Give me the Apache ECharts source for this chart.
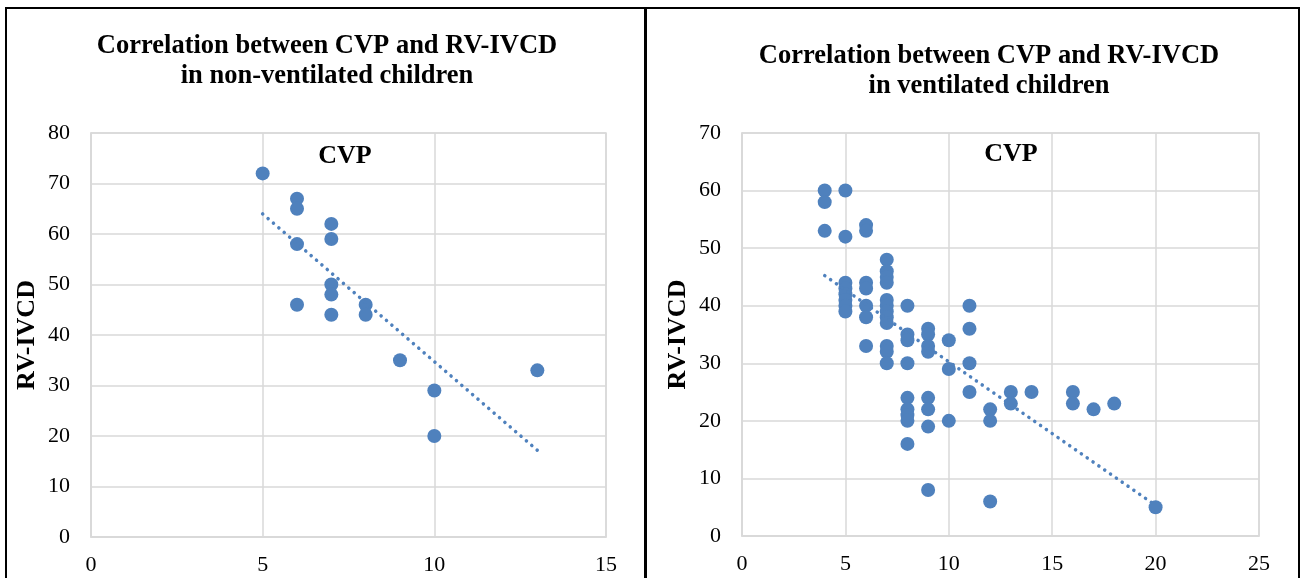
<!DOCTYPE html>
<html>
<head>
<meta charset="utf-8">
<title>CVP vs RV-IVCD</title>
<script src="https://cdn.jsdelivr.net/npm/echarts@6/dist/echarts.min.js"></script>
<style>
  html, body { margin: 0; padding: 0; background: #fff; }
  #chart { width: 1303px; height: 578px; }
</style>
</head>
<body>
<div id="chart"></div>
<script>
  // non-ventilated children
  const nonVentCvp = [5, 6, 6, 6, 6, 7, 7, 7, 7, 7, 8, 8, 9, 10, 10, 13];
  const nonVentIvcd = [72, 67, 65, 58, 46, 62, 59, 50, 48, 44, 46, 44, 35, 29, 20, 33];

  // ventilated children
  const ventCvp = [
    4, 4, 4,
    5, 5, 5, 5, 5, 5, 5, 5,
    6, 6, 6, 6, 6, 6, 6,
    7, 7, 7, 7, 7, 7, 7, 7, 7, 7, 7, 7,
    8, 8, 8, 8, 8, 8, 8, 8, 8,
    9, 9, 9, 9, 9, 9, 9, 9,
    10, 10, 10,
    11, 11, 11, 11,
    12, 12, 12,
    13, 13, 14, 16, 16, 17, 18, 20
  ];
  const ventIvcd = [
    60, 58, 53,
    60, 52, 44, 43, 42, 41, 40, 39,
    54, 53, 44, 43, 40, 38, 33,
    48, 46, 45, 44, 41, 40, 39, 38, 37, 33, 32, 30,
    40, 35, 34, 30, 24, 22, 21, 20, 16,
    36, 35, 33, 32, 24, 22, 19, 8,
    34, 29, 20,
    40, 36, 30, 25,
    22, 20, 6,
    25, 23, 25, 25, 23, 22, 23, 5
  ];

  const leftTitle = 'Correlation between CVP and RV-IVCD\nin non-ventilated children';
  const rightTitle = 'Correlation between CVP and RV-IVCD\nin ventilated children';

  const blue = '#4f81bd';
  const gridColor = '#d9d9d9';
  const serif = 'Liberation Serif';

  function zip(xs, ys) {
    return xs.map(function (x, i) { return [x, ys[i]]; });
  }

  // linear trend line (least squares) from min x to max x
  function trend(xs, ys) {
    const n = xs.length;
    const mx = xs.reduce((a, b) => a + b, 0) / n;
    const my = ys.reduce((a, b) => a + b, 0) / n;
    let sxy = 0, sxx = 0;
    for (let i = 0; i < n; i++) {
      sxy += (xs[i] - mx) * (ys[i] - my);
      sxx += (xs[i] - mx) * (xs[i] - mx);
    }
    const k = sxy / sxx;
    const b = my - k * mx;
    const x0 = Math.min.apply(null, xs);
    const x1 = Math.max.apply(null, xs);
    return [[x0, k * x0 + b], [x1, k * x1 + b]];
  }

  function valueAxis(idx, max, extra) {
    return Object.assign({
      type: 'value',
      gridIndex: idx,
      min: 0,
      max: max,
      axisLine: { show: true, lineStyle: { color: gridColor, width: 1.5 } },
      axisTick: { show: false },
      splitLine: { show: true, lineStyle: { color: gridColor, width: 1.5 } }
    }, extra);
  }

  const tickFont = { color: '#000', fontFamily: serif, fontSize: 22 };
  const nameFont = { color: '#000', fontFamily: serif, fontSize: 26, fontWeight: 'bold' };

  const chart = echarts.init(document.getElementById('chart'));

  const option = {
    backgroundColor: '#fff',
    animation: false,
    grid: [
      { left: 91, right: 697, top: 133, bottom: 41, show: true, borderColor: gridColor, borderWidth: 1.5 },
      { left: 742, right: 44, top: 133, bottom: 42, show: true, borderColor: gridColor, borderWidth: 1.5 }
    ],
    xAxis: [
      valueAxis(0, 15, { interval: 5, axisLabel: Object.assign({ margin: 17 }, tickFont) }),
      valueAxis(1, 25, { interval: 5, axisLabel: Object.assign({ margin: 17 }, tickFont) })
    ],
    yAxis: [
      valueAxis(0, 80, {
        interval: 10,
        axisLabel: Object.assign({ margin: 21 }, tickFont),
        name: 'RV-IVCD', nameLocation: 'middle', nameGap: 51,
        nameTextStyle: nameFont
      }),
      valueAxis(1, 70, {
        interval: 10,
        axisLabel: Object.assign({ margin: 21 }, tickFont),
        name: 'RV-IVCD', nameLocation: 'middle', nameGap: 51,
        nameTextStyle: nameFont
      })
    ],
    graphic: [
      { type: 'rect', shape: { x: 6, y: 8, width: 639, height: 620 }, style: { fill: 'none', stroke: '#000', lineWidth: 2 }, z: 100 },
      { type: 'rect', shape: { x: 646, y: 8, width: 653, height: 620 }, style: { fill: 'none', stroke: '#000', lineWidth: 2 }, z: 100 },
      { type: 'text', x: 327, y: 31, style: { text: leftTitle, textAlign: 'center', textVerticalAlign: 'top', font: 'bold 26.5px ' + serif, lineHeight: 30, fill: '#000' } },
      { type: 'text', x: 989, y: 41, style: { text: rightTitle, textAlign: 'center', textVerticalAlign: 'top', font: 'bold 26.5px ' + serif, lineHeight: 30, fill: '#000' } },
      { type: 'text', x: 345, y: 156, style: { text: 'CVP', textAlign: 'center', textVerticalAlign: 'middle', font: 'bold 26px ' + serif, fill: '#000' } },
      { type: 'text', x: 1011, y: 154, style: { text: 'CVP', textAlign: 'center', textVerticalAlign: 'middle', font: 'bold 26px ' + serif, fill: '#000' } }
    ],
    series: [
      {
        type: 'scatter', xAxisIndex: 0, yAxisIndex: 0,
        symbolSize: 14, itemStyle: { color: blue, opacity: 1 },
        data: zip(nonVentCvp, nonVentIvcd)
      },
      {
        type: 'line', xAxisIndex: 0, yAxisIndex: 0, symbol: 'none',
        lineStyle: { color: blue, width: 3.5, type: [0.1, 7], cap: 'round' },
        data: trend(nonVentCvp, nonVentIvcd), z: 3
      },
      {
        type: 'scatter', xAxisIndex: 1, yAxisIndex: 1,
        symbolSize: 14, itemStyle: { color: blue, opacity: 1 },
        data: zip(ventCvp, ventIvcd)
      },
      {
        type: 'line', xAxisIndex: 1, yAxisIndex: 1, symbol: 'none',
        lineStyle: { color: blue, width: 3.5, type: [0.1, 7], cap: 'round' },
        data: trend(ventCvp, ventIvcd), z: 3
      }
    ]
  };

  chart.setOption(option);
</script>
</body>
</html>
